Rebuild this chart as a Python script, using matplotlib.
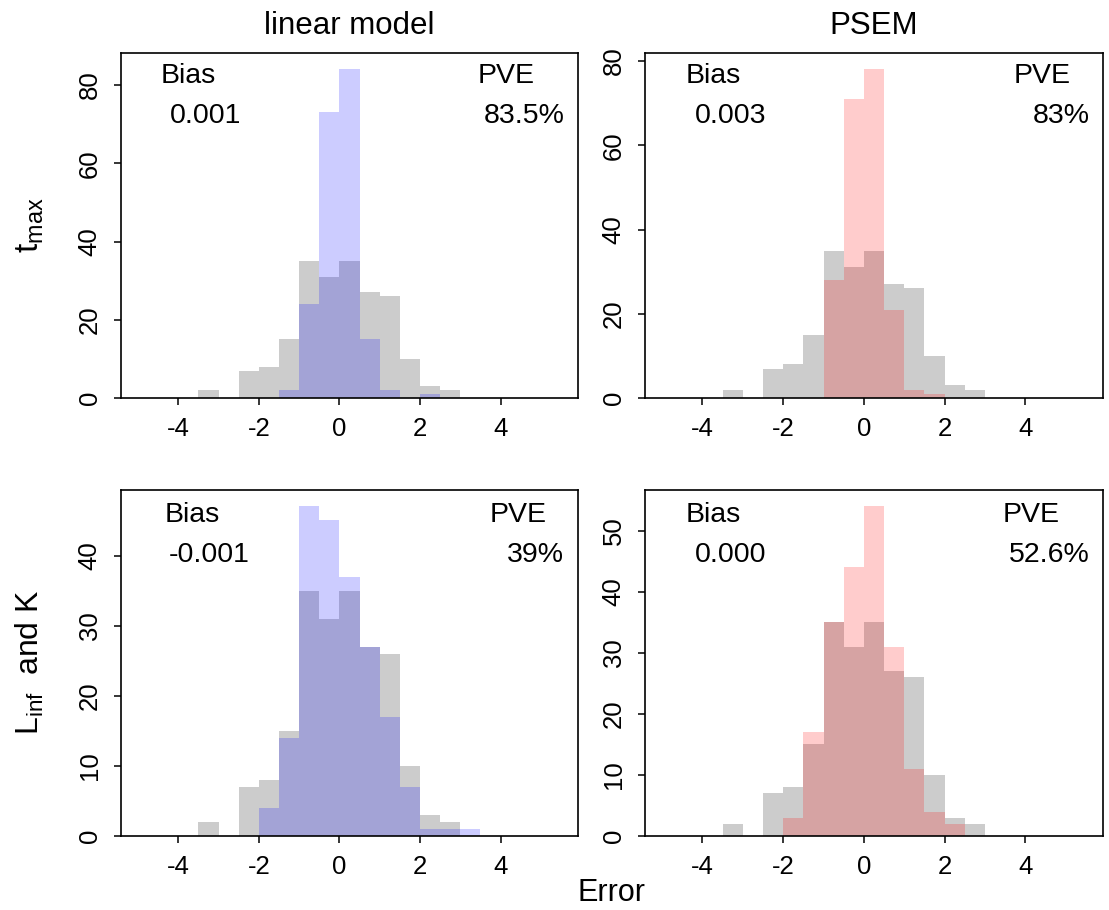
import numpy as np
import matplotlib
matplotlib.use('Agg')
import matplotlib.pyplot as plt

plt.rcParams['font.family'] = ['Liberation Sans', 'DejaVu Sans']
plt.rcParams['mathtext.fontset'] = 'custom'
plt.rcParams['mathtext.rm'] = 'Liberation Sans'
plt.rcParams['mathtext.it'] = 'Liberation Sans'

# Bin edges of the error histograms (width 0.5)
bin_edges = np.arange(-3.5, 3.51, 0.5)

# Counts per bin
observed = [2, 0, 7, 8, 15, 35, 31, 35, 27, 26, 10, 3, 2, 0]
lm_tmax = [0, 0, 0, 0, 2, 24, 73, 84, 15, 2, 0, 1, 0, 0]
psem_tmax = [0, 0, 0, 0, 0, 28, 71, 78, 21, 2, 1, 0, 0, 0]
lm_linf = [0, 0, 0, 4, 14, 47, 45, 37, 27, 17, 7, 1, 1, 1]
psem_linf = [0, 0, 0, 3, 17, 35, 44, 54, 31, 11, 4, 2, 0, 0]

col_titles = ['linear model', 'PSEM']
bias_values = ['0.001', '0.003', '-0.001', '0.000']
pve_values = ['83.5%', '83%', '39%', '52.6%']
y_ticks = [[0, 20, 40, 60, 80], [0, 20, 40, 60, 80],
           [0, 10, 20, 30, 40], [0, 10, 20, 30, 40, 50]]
x_ticks = [-4, -2, 0, 2, 4]

# panel layout (pixels) and text anchors (axes fractions)
W, H = 1109, 910
lefts = [121, 645]
widths = [457, 458]
tops = [53, 490]
heights = [345, 346]
bias_lab_x = [0.147, 0.148, 0.157, 0.148]
bias_val_x = [0.184, 0.187, 0.194, 0.187]
pve_lab_x = [0.842, 0.867, 0.868, 0.842]
lab_y = [0.912, 0.912, 0.908, 0.908]
val_y = [0.796, 0.796, 0.793, 0.793]

fits = [lm_tmax, psem_tmax, lm_linf, psem_linf]
fit_colors = [(0, 0, 1, 0.2), (1, 0, 0, 0.2), (0, 0, 1, 0.2), (1, 0, 0, 0.2)]

fig = plt.figure(figsize=(W / 100, H / 100), dpi=100)

for i in range(4):
    r, c = divmod(i, 2)
    ax = fig.add_axes([lefts[c] / W, 1 - (tops[r] + heights[r]) / H,
                       widths[c] / W, heights[r] / H])
    ax.stairs(observed, bin_edges, fill=True, color='#cccccc', linewidth=0)
    ax.stairs(fits[i], bin_edges, fill=True, color=fit_colors[i], linewidth=0)

    ymax = max(max(observed), max(fits[i])) * 1.05
    ax.set_xlim(-5.42, 5.92)
    ax.set_ylim(0, ymax)
    ax.set_xticks(x_ticks)
    ax.set_xticklabels([str(t) for t in x_ticks])
    ax.set_yticks(y_ticks[i])
    ax.set_yticklabels([str(t) for t in y_ticks[i]], rotation=90, va='center')
    ax.tick_params(direction='out', length=5, width=1.1, labelsize=18.5,
                   pad=9, color='black')
    for s in ax.spines.values():
        s.set_linewidth(1.2)

    ax.text(bias_lab_x[i], lab_y[i], 'Bias', transform=ax.transAxes,
            ha='center', va='baseline', fontsize=20.5)
    ax.text(bias_val_x[i], val_y[i], bias_values[i], transform=ax.transAxes,
            ha='center', va='baseline', fontsize=20.5)
    ax.text(pve_lab_x[i], lab_y[i], 'PVE', transform=ax.transAxes,
            ha='center', va='baseline', fontsize=20.5)
    ax.text(0.97, val_y[i], pve_values[i], transform=ax.transAxes,
            ha='right', va='baseline', fontsize=20.5)

    if r == 0:
        ax.set_title(col_titles[c], fontsize=22.5, pad=14)

fig.text(30 / W, 1 - 225 / H, r'$\mathregular{t_{max}}$', rotation=90,
         ha='center', va='center', fontsize=24)
fig.text(30 / W, 1 - 662 / H, r'$\mathregular{L_{inf}}$  and K', rotation=90,
         ha='center', va='center', fontsize=23)
fig.text(612 / W, 1 - 901 / H, 'Error', ha='center', va='baseline', fontsize=22)

fig.savefig('out.png', dpi=100)
